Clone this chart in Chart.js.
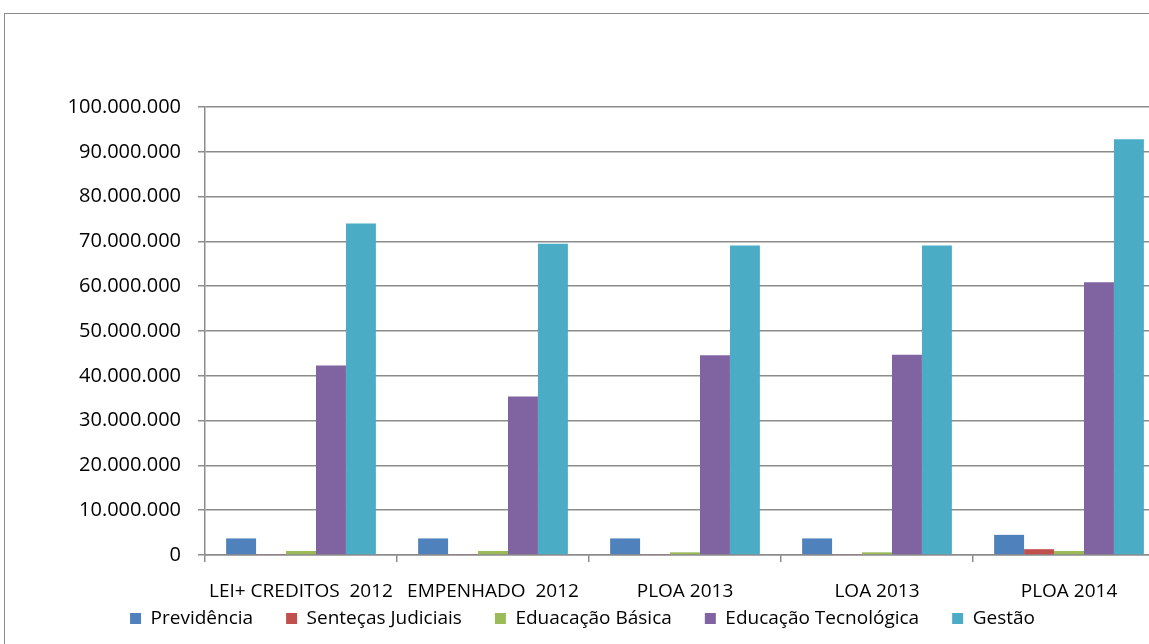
<!DOCTYPE html>
<html>
<head>
<meta charset="utf-8">
<script src="https://cdn.jsdelivr.net/npm/chart.js@4.4.0/dist/chart.umd.min.js"></script>
<style>
  html, body { margin: 0; padding: 0; background: #fff; overflow: hidden; }
  #frame { position: absolute; left: 4px; top: 13px; width: 1200px; height: 700px; border: 1px solid #8c8c8c; }
  #wrap { position: absolute; left: 0; top: 0; width: 1180px; height: 644px; }
</style>
</head>
<body>
<div id="frame"></div>
<div id="wrap"><canvas id="chart" width="1180" height="644"></canvas></div>
<script>
const categories = ['LEI+ CREDITOS  2012', 'EMPENHADO  2012', 'PLOA 2013', 'LOA 2013', 'PLOA 2014'];
const previdencia = [3700000, 3700000, 3700000, 3700000, 4500000];
const sentencas = [200000, 200000, 200000, 200000, 1300000];
const basica = [900000, 900000, 600000, 600000, 900000];
const tecnologica = [42300000, 35400000, 44600000, 44700000, 60900000];
const gestao = [74000000, 69500000, 69100000, 69100000, 92800000];
const yTicks = [0, 10000000, 20000000, 30000000, 40000000, 50000000, 60000000, 70000000, 80000000, 90000000, 100000000];

const fontFamily = "'Open Sans', sans-serif";
const gridColor = '#8c8c8c';

const fmt = (v) => v === 0 ? '0' : v.toLocaleString('de-DE');

// legend: small reserved height, then pulled up right under the axis labels
const legendPlace = {
  id: 'legendPlace',
  afterInit(chart) {
    const fit = chart.legend.fit;
    chart.legend.fit = function () {
      fit.call(this);
      this.height = 39;
    };
  },
  afterLayout(chart) {
    const lg = chart.legend;
    lg.top = 576;
    lg.bottom = 644;
  }
};

new Chart(document.getElementById('chart'), {
  type: 'bar',
  data: {
    labels: categories,
    datasets: [
      { label: 'Previdência', data: previdencia, backgroundColor: '#4F81BD' },
      { label: 'Senteças Judiciais', data: sentencas, backgroundColor: '#C0504D' },
      { label: 'Eduacação Básica', data: basica, backgroundColor: '#9BBB59' },
      { label: 'Educação Tecnológica', data: tecnologica, backgroundColor: '#8064A2' },
      { label: 'Gestão', data: gestao, backgroundColor: '#4BACC6' }
    ]
  },
  options: {
    responsive: false,
    animation: false,
    layout: { padding: { top: 107, left: 0, right: 15, bottom: 0 } },
    datasets: {
      bar: { barPercentage: 1, categoryPercentage: 0.78, borderWidth: 0 }
    },
    scales: {
      y: {
        min: 0,
        max: 100000000,
        afterFit: (s) => { s.width = 205; },
        afterBuildTicks: (s) => { s.ticks = yTicks.map(v => ({ value: v })); },
        border: { display: true, color: gridColor, width: 1.5 },
        grid: { color: gridColor, lineWidth: 1.5, tickLength: 7, drawTicks: true },
        ticks: {
          color: '#000',
          padding: 17,
          font: { family: fontFamily, size: 20 },
          callback: (v) => fmt(v)
        }
      },
      x: {
        afterFit: (s) => { s.height = 50; },
        border: { display: true, color: gridColor, width: 1.5 },
        grid: { display: true, drawOnChartArea: false, color: gridColor, lineWidth: 1.5, tickLength: 7, offset: true },
        ticks: {
          color: '#000',
          padding: 18,
          maxRotation: 0,
          autoSkip: false,
          font: { family: fontFamily, size: 19 }
        }
      }
    },
    plugins: {
      legend: {
        position: 'bottom',
        labels: {
          color: '#000',
          boxWidth: 11,
          boxHeight: 11,
          padding: 33,
          font: { family: fontFamily, size: 19 }
        }
      },
      tooltip: { enabled: false }
    }
  },
  plugins: [legendPlace]
});
</script>
</body>
</html>
